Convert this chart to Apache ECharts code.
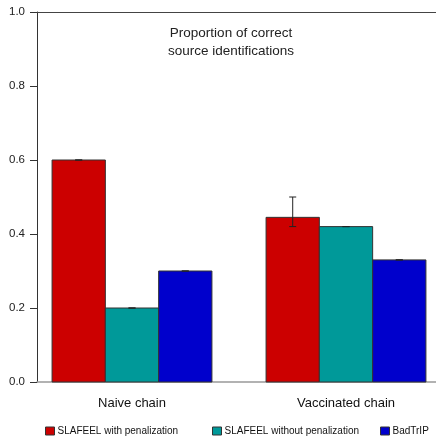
<!DOCTYPE html>
<html><head><meta charset="utf-8">
<script src="https://cdn.jsdelivr.net/npm/echarts@6/dist/echarts.min.js"></script>
<style>html,body{margin:0;padding:0;background:#fff}#c{width:436px;height:436px}</style>
</head><body><div id="c"></div>
<script>
const categories = ['Naive chain', 'Vaccinated chain'];
const seriesNames = ['SLAFEEL with penalization', 'SLAFEEL without penalization', 'BadTrIP'];
const withPen = [0.60, 0.445];
const withoutPen = [0.20, 0.42];
const badTrip = [0.30, 0.33];
const withPenLow = [0.60, 0.42];
const withPenHigh = [0.60, 0.50];
const withoutPenLow = [0.20, 0.42];
const withoutPenHigh = [0.20, 0.42];
const badTripLow = [0.30, 0.33];
const badTripHigh = [0.30, 0.33];
const yTicks = [0, 0.2, 0.4, 0.6, 0.8, 1.0];
const colors = ['#CC0000', '#009999', '#0000CC'];

const values = [withPen, withoutPen, badTrip];
const lows = [withPenLow, withoutPenLow, badTripLow];
const highs = [withPenHigh, withoutPenHigh, badTripHigh];
const catPos = categories.map((c, i) => i + 1);
const FONT = 'Arial';
const BAR_FRAC = 0.249;

const chart = echarts.init(document.getElementById('c'));
const series = [];
values.forEach((vals, s) => {
  series.push({
    name: seriesNames[s], type: 'custom', z: 2,
    itemStyle: { color: colors[s] },
    data: vals.map((v, i) => [catPos[i], v]),
    renderItem: function (params, api) {
      const unit = api.size([1, 0])[0];
      const bw = unit * BAR_FRAC;
      const c = api.coord([api.value(0), api.value(1)]);
      const base = api.coord([api.value(0), 0]);
      const cx = c[0] + (s - 1) * bw;
      return { type: 'rect', shape: { x: cx - bw / 2, y: c[1], width: bw, height: base[1] - c[1] },
        style: { fill: colors[s], stroke: '#333', lineWidth: 1 } };
    }
  });
  series.push({
    name: seriesNames[s] + ' err', type: 'custom', z: 3, silent: true,
    data: vals.map((v, i) => [catPos[i], lows[s][i], highs[s][i]]),
    renderItem: function (params, api) {
      const unit = api.size([1, 0])[0];
      const bw = unit * BAR_FRAC;
      const lo = api.coord([api.value(0), api.value(1)]);
      const hi = api.coord([api.value(0), api.value(2)]);
      const cx = lo[0] + (s - 1) * bw;
      const cw = 3.5;
      return { type: 'group', children: [
        { type: 'line', shape: { x1: cx, y1: lo[1], x2: cx, y2: hi[1] }, style: { stroke: '#222', lineWidth: 1 } },
        { type: 'line', shape: { x1: cx - cw, y1: lo[1], x2: cx + cw, y2: lo[1] }, style: { stroke: '#222', lineWidth: 1 } },
        { type: 'line', shape: { x1: cx - cw, y1: hi[1], x2: cx + cw, y2: hi[1] }, style: { stroke: '#222', lineWidth: 1 } }
      ]};
    }
  });
});

const legendLefts = [45, 212, 380];
const legends = seriesNames.map((n, i) => ({
  data: [{ name: n, icon: 'rect', itemStyle: { color: colors[i], borderColor: '#333', borderWidth: 1 } }],
  left: legendLefts[i], top: 426, itemWidth: 9, itemHeight: 8, itemGap: 0, padding: 0,
  textStyle: { fontFamily: FONT, fontSize: 10, color: '#111', padding: [0, 0, 0, -2] },
  selectedMode: false
}));

chart.setOption({
  animation: false,
  backgroundColor: '#fff',
  title: { text: 'Proportion of correct\nsource identifications', left: 226, textAlign: 'center', top: 20,
    textStyle: { fontFamily: FONT, fontSize: 13.5, fontWeight: 'normal', color: '#222', lineHeight: 17.5 } },
  legend: legends,
  grid: { left: 37, right: 0, top: 12, bottom: 54 },
  xAxis: [{
    type: 'value', min: 1 - 95 / 214, max: 1 + (399 - 95) / 214,
    axisLine: { show: true, onZero: false, lineStyle: { color: '#999', width: 1.5 } },
    axisTick: { show: false }, splitLine: { show: false },
    axisLabel: { customValues: catPos, formatter: v => categories[Math.round(v) - 1] || '',
      fontFamily: FONT, fontSize: 13, color: '#111', margin: 15 }
  }, {
    type: 'value', position: 'top', min: 0, max: 1,
    axisLine: { show: true, onZero: false, lineStyle: { color: '#444', width: 1 } },
    axisTick: { show: false }, axisLabel: { show: false }, splitLine: { show: false }
  }],
  yAxis: {
    type: 'value', min: 0, max: 1, interval: 0.2,
    axisLine: { show: true, lineStyle: { color: '#333', width: 1 } },
    axisTick: { show: true, length: 7, lineStyle: { color: '#333' } },
    splitLine: { show: false },
    axisLabel: { formatter: v => v.toFixed(1), fontFamily: FONT, fontSize: 11.5, color: '#222', margin: 12 }
  },
  series: series
});
</script></body></html>
